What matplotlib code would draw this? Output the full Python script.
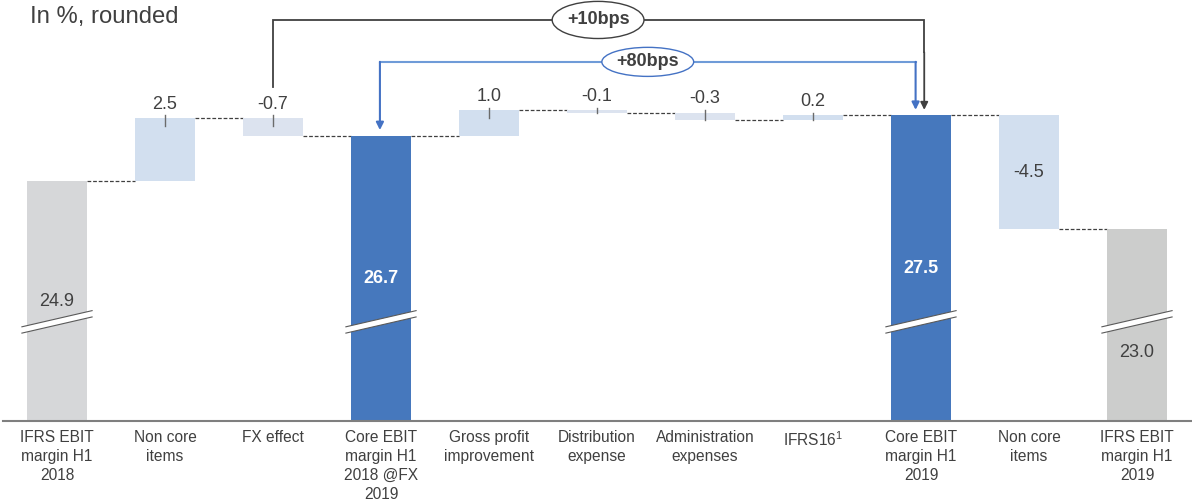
import matplotlib
matplotlib.use("Agg")
import matplotlib.pyplot as plt
import matplotlib.patches as mpatches
import numpy as np

plt.rcParams['font.family'] = ['Liberation Sans', 'DejaVu Sans']
plt.rcParams['mathtext.fontset'] = 'custom'
plt.rcParams['mathtext.rm'] = 'Liberation Sans'

# EBIT margin bridge, H1 2018 -> H1 2019
categories = ['IFRS EBIT\nmargin H1\n2018', 'Non core\nitems', 'FX effect',
              'Core EBIT\nmargin H1\n2018 @FX\n2019', 'Gross profit\nimprovement',
              'Distribution\nexpense', 'Administration\nexpenses', r'IFRS16$^{\mathrm{1}}$',
              'Core EBIT\nmargin H1\n2019', 'Non core\nitems', 'IFRS EBIT\nmargin H1\n2019']
values = [24.9, 2.5, -0.7, 26.7, 1.0, -0.1, -0.3, 0.2, 27.5, -4.5, 23.0]
kinds = ['ifrs', 'step', 'step', 'core', 'step', 'step', 'step', 'step', 'core', 'step', 'ifrs']
bridge_10 = '+10bps'
bridge_80 = '+80bps'

TEXT = '#404040'
COLORS = {'ifrs': ['#d6d7d9', '#cccdcc'], 'core': '#4678bd'}
STEP_POS = '#d2dfef'
STEP_NEG = '#dce3ef'

Y0 = 15.4          # axis is cut here (broken scale)
Y1 = 32.07
BREAK_Y = 19.2
W = 0.556

fig = plt.figure(figsize=(11.92, 5.03), dpi=100)
ax = fig.add_axes([3 / 1192, 82 / 503, 1188 / 1192, 421 / 503])
ax.set_xlim(-0.5, 10.5)
ax.set_ylim(Y0, Y1)

level = 0.0
ifrs_i = 0
for i, (v, k) in enumerate(zip(values, kinds)):
    if k in ('ifrs', 'core'):
        bottom, top = Y0, v
        level = v
        if k == 'ifrs':
            color = COLORS['ifrs'][ifrs_i]
            ifrs_i += 1
        else:
            color = COLORS['core']
    else:
        bottom, top = min(level, level + v), max(level, level + v)
        level += v
        color = STEP_POS if (v > 0 or i == 9) else STEP_NEG
    ax.bar(i, top - bottom, bottom=bottom, width=W, color=color, zorder=2)

    if k == 'step' and i != 9:
        # value above the bar with a small marker tick
        ax.plot([i, i], [top + 0.1, max(bottom, top - 0.3)], color='#6b6b6b', lw=1, zorder=3)
        ax.text(i, top + 0.55, f'{v:.1f}', ha='center', va='center', fontsize=13, color=TEXT)
    elif k == 'step':
        ax.text(i, (top + bottom) / 2, f'{v:.1f}', ha='center', va='center', fontsize=13, color=TEXT)
    else:
        ly = (Y0 + v) / 2
        if abs(ly - BREAK_Y) < 0.8:
            ly = BREAK_Y - 1.1
        if k == 'core':
            ax.text(i, ly, f'{v:.1f}', ha='center', va='center', fontsize=13,
                    color='white', fontweight='bold', zorder=5)
        else:
            ax.text(i, ly, f'{v:.1f}', ha='center', va='center', fontsize=13, color=TEXT, zorder=5)

        # axis break marks
        hw, dy, th = 0.325, 0.32, 0.25
        xs = [i - hw, i + hw, i + hw, i - hw]
        ys = [BREAK_Y - dy, BREAK_Y + dy, BREAK_Y + dy + th, BREAK_Y - dy + th]
        ax.add_patch(mpatches.Polygon(list(zip(xs, ys)), closed=True, facecolor='white',
                                      edgecolor='none', zorder=4))
        for off in (0, th):
            ax.plot([i - hw, i + hw], [BREAK_Y - dy + off, BREAK_Y + dy + off],
                    color='#5a5a5a', lw=0.8, zorder=4)

# dashed connectors between bars
level = 0.0
for i, (v, k) in enumerate(zip(values, kinds)):
    level = v if k != 'step' else level + v
    if i < len(values) - 1:
        ax.plot([i + W / 2, i + 1 - W / 2], [level, level], color=TEXT, lw=0.9,
                ls=(0, (3, 1.5)), zorder=1)

# bracket: +10bps
bk = '#404040'
y_h = 31.28
ax.plot([2.0, 2.0, 8.03, 8.03], [28.63, y_h, y_h, 30.0], color=bk, lw=1.3, zorder=3,
        solid_joinstyle='miter')
ax.annotate('', xy=(8.03, 27.72), xytext=(8.03, 30.0),
            arrowprops=dict(arrowstyle='-|>', color=bk, lw=1.3, mutation_scale=11,
                            shrinkA=0, shrinkB=0), zorder=3)
ax.add_patch(mpatches.Ellipse((5.01, y_h), 0.85, 1.47, facecolor='white', edgecolor=bk,
                              lw=1, zorder=6, clip_on=False))
ax.text(5.01, y_h, bridge_10, ha='center', va='center', fontsize=13, fontweight='bold',
        color=TEXT, zorder=7)

# bracket: +80bps
bl = '#6f9bd8'
ba = '#4472c4'
y_b = 29.62
ax.plot([2.99, 7.95], [y_b, y_b], color=bl, lw=1.5, zorder=3)
for x0, tip in ((2.99, 26.92), (7.95, 27.72)):
    ax.annotate('', xy=(x0, tip), xytext=(x0, y_b),
                arrowprops=dict(arrowstyle='-|>', color=ba, lw=1.5, mutation_scale=11,
                                shrinkA=0, shrinkB=0), zorder=3)
ax.add_patch(mpatches.Ellipse((5.47, y_b), 0.85, 1.15, facecolor='white', edgecolor=ba,
                              lw=1, zorder=6))
ax.text(5.47, y_b, bridge_80, ha='center', va='center', fontsize=13, fontweight='bold',
        color=TEXT, zorder=7)

# axes styling
for s in ('top', 'left', 'right'):
    ax.spines[s].set_visible(False)
ax.spines['bottom'].set_color('#7f7f7f')
ax.spines['bottom'].set_linewidth(1.5)
ax.set_yticks([])
ax.set_xticks(range(len(categories)))
ax.set_xticklabels(categories, fontsize=11.2, color=TEXT, linespacing=1.32)
ax.tick_params(axis='x', length=0, pad=6.5)

fig.text(30 / 1192, 1 - 17 / 503, 'In %, rounded', fontsize=17.2, color=TEXT,
         ha='left', va='center')

fig.savefig('out.png', dpi=100, facecolor='white')
